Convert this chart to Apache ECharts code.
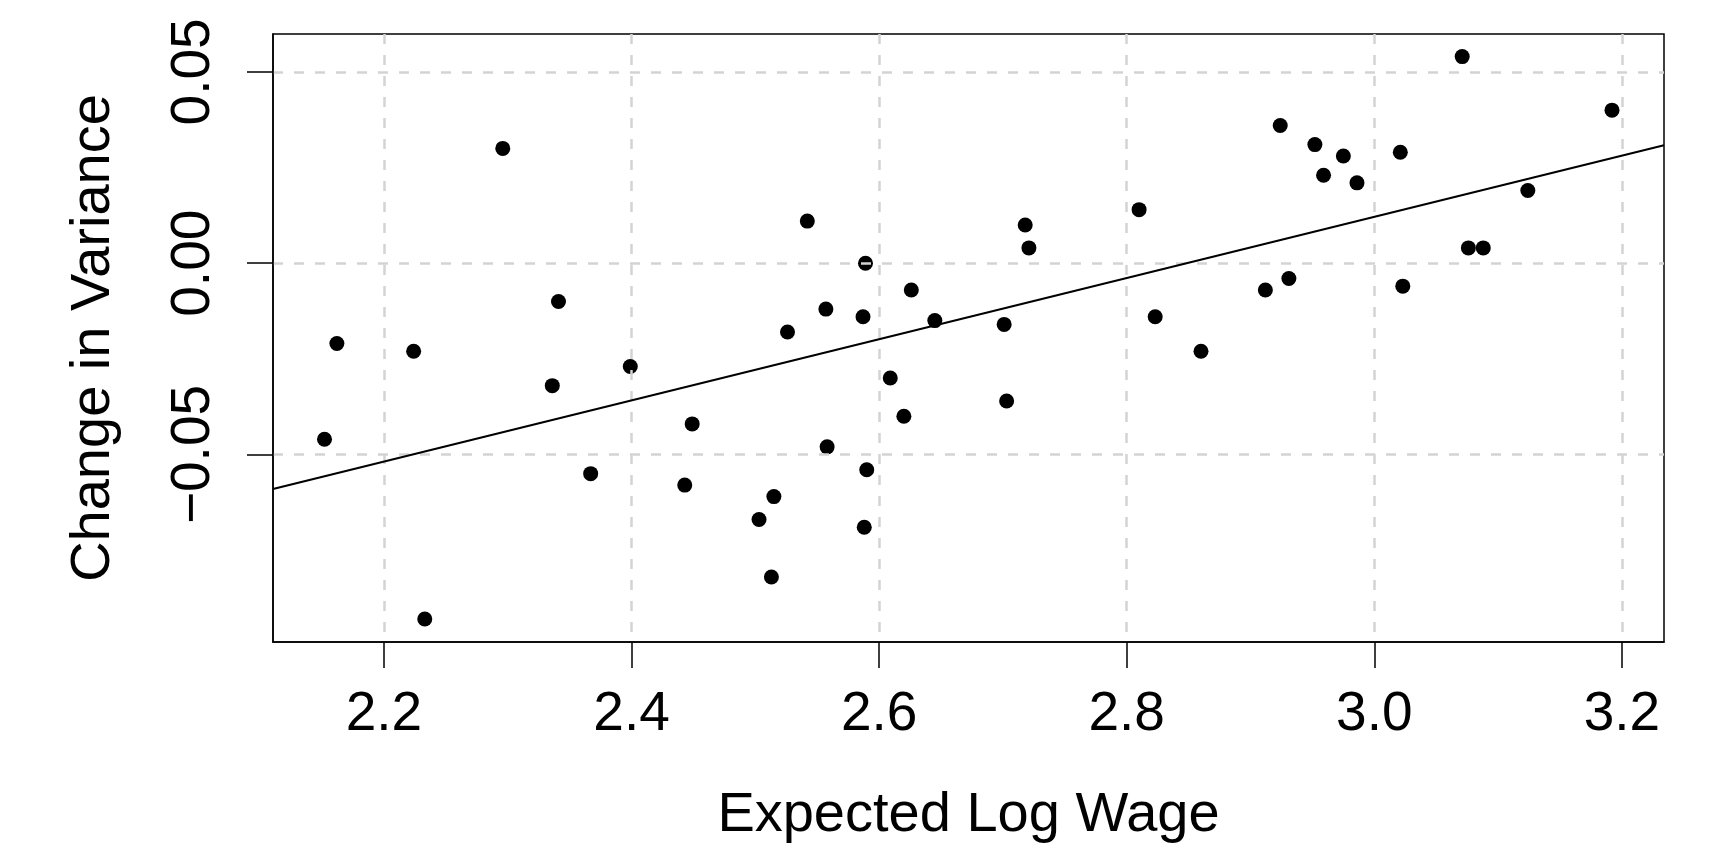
<!DOCTYPE html>
<html>
<head>
<meta charset="utf-8">
<script src="https://cdn.jsdelivr.net/npm/echarts@6/dist/echarts.min.js"></script>
<style>
html,body{margin:0;padding:0;background:#ffffff;}
#chart{width:1715px;height:849px;}
</style>
</head>
<body>
<div id="chart"></div>
<script>
// ---- data ----
const xValues = [2.152, 2.162, 2.224, 2.233, 2.296, 2.336, 2.341, 2.367, 2.399, 2.443,
                 2.449, 2.503, 2.513, 2.515, 2.526, 2.542, 2.557, 2.558, 2.587, 2.588,
                 2.589, 2.590, 2.609, 2.620, 2.626, 2.645, 2.701, 2.703, 2.718, 2.721,
                 2.810, 2.823, 2.860, 2.912, 2.924, 2.931, 2.952, 2.959, 2.975, 2.986,
                 3.021, 3.023, 3.071, 3.076, 3.088, 3.124, 3.192];
const yValues = [-0.046, -0.021, -0.023, -0.093, 0.030, -0.032, -0.010, -0.055, -0.027, -0.058,
                 -0.042, -0.067, -0.082, -0.061, -0.018, 0.011, -0.012, -0.048, -0.014, -0.069,
                 0.000, -0.054, -0.030, -0.040, -0.007, -0.015, -0.016, -0.036, 0.010, 0.004,
                 0.014, -0.014, -0.023, -0.007, 0.036, -0.004, 0.031, 0.023, 0.028, 0.021,
                 0.029, -0.006, 0.054, 0.004, 0.004, 0.019, 0.040];
// fitted line end points (at the plot edges)
const fitX = [2.1104, 3.234];
const fitY = [-0.0590, 0.0308];
// axes
const xRange = [2.1104, 3.234];
const yRange = [-0.0990, 0.0599];
const xTicks = [2.2, 2.4, 2.6, 2.8, 3.0, 3.2];
const xTickLabels = ['2.2', '2.4', '2.6', '2.8', '3.0', '3.2'];
const yTicks = [-0.05, 0, 0.05];
const yTickLabels = ['\u22120.05', '0.00', '0.05'];
const xName = 'Expected Log Wage';
const yName = 'Change in Variance';

// ---- chart ----
const points = xValues.map((x, i) => [x, yValues[i]]);
const fitLine = fitX.map((x, i) => [x, fitY[i]]);
function labelFor(ticks, labels) {
  return function (v) {
    const i = ticks.findIndex(t => Math.abs(t - v) < 1e-9);
    return i >= 0 ? labels[i] : '';
  };
}
const FONT = 'Liberation Sans, Arial, Helvetica, sans-serif';
const gridLine = { show: true, lineStyle: { color: '#d3d3d3', type: [10, 11], width: 2.5 } };

const chart = echarts.init(document.getElementById('chart'), null, { renderer: 'canvas' });
chart.setOption({
  animation: false,
  backgroundColor: '#ffffff',
  grid: {
    left: 273, top: 34, width: 1391, height: 610,
    show: true, borderColor: '#000000', borderWidth: 1.5, backgroundColor: 'transparent',
    containLabel: false
  },
  xAxis: {
    type: 'value',
    min: xRange[0], max: xRange[1],
    name: xName, nameLocation: 'middle', nameGap: 146,
    nameTextStyle: { fontFamily: FONT, fontSize: 56, color: '#000' },
    axisLine: { show: true, onZero: false, lineStyle: { color: '#000', width: 1.5 } },
    axisTick: { show: true, inside: false, length: 26, customValues: xTicks,
                lineStyle: { color: '#000', width: 1.5 } },
    axisLabel: { show: true, customValues: xTicks, margin: 45, formatter: labelFor(xTicks, xTickLabels),
                 fontFamily: FONT, fontSize: 55, color: '#000' },
    splitLine: gridLine
  },
  yAxis: {
    type: 'value',
    min: yRange[0], max: yRange[1],
    name: yName, nameLocation: 'middle', nameGap: 151, nameRotate: 90,
    nameTextStyle: { fontFamily: FONT, fontSize: 56, color: '#000' },
    axisLine: { show: true, onZero: false, lineStyle: { color: '#000', width: 1.5 } },
    axisTick: { show: true, inside: false, length: 26, customValues: yTicks,
                lineStyle: { color: '#000', width: 1.5 } },
    axisLabel: { show: true, customValues: yTicks, rotate: 90, margin: 52,
                 formatter: labelFor(yTicks, yTickLabels),
                 fontFamily: FONT, fontSize: 55, color: '#000' },
    splitLine: gridLine
  },
  series: [
    {
      type: 'scatter',
      data: points,
      symbol: 'circle',
      symbolSize: 15,
      itemStyle: { color: '#000000', opacity: 1 },
      z: -1,
      silent: true
    },
    {
      type: 'line',
      data: fitLine,
      showSymbol: false,
      symbol: 'none',
      lineStyle: { color: '#000000', width: 2 },
      silent: true
    }
  ]
});
</script>
</body>
</html>
